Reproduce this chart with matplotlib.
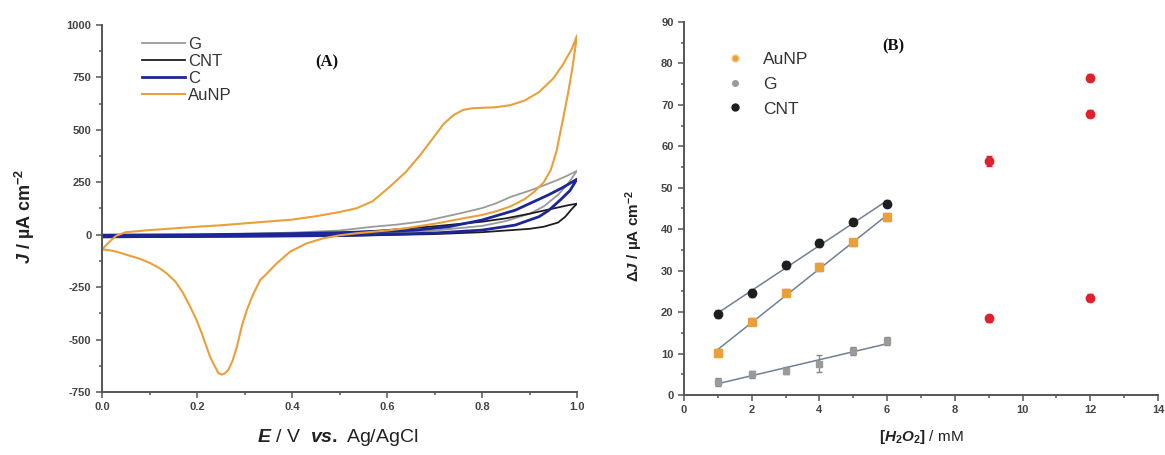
import matplotlib.pyplot as plt
import numpy as np
from matplotlib.ticker import MultipleLocator
from matplotlib.lines import Line2D

plt.rcParams['font.family'] = ['Liberation Sans', 'DejaVu Sans']
plt.rcParams['axes.unicode_minus'] = False
plt.rcParams['mathtext.fontset'] = 'custom'
plt.rcParams['mathtext.rm'] = 'Liberation Sans:bold'
plt.rcParams['mathtext.bf'] = 'Liberation Sans:bold'
plt.rcParams['mathtext.it'] = 'Liberation Sans:italic:bold'

# --- (A) cyclic voltammograms: forward scan 0 -> 1 V, then back to 0 V ---
G_E = [0.00, 0.10, 0.20, 0.30, 0.40, 0.50, 0.57, 0.62, 0.68, 0.72, 0.76, 0.80,
       0.83, 0.86, 0.88, 0.90, 0.93, 0.96, 0.98, 1.00,
       0.98, 0.96, 0.93, 0.90, 0.85, 0.80, 0.70, 0.60, 0.50, 0.30, 0.10, 0.00]
G_J = [-5, -3, 0, 4, 10, 20, 38, 48, 65, 85, 105, 127,
       150, 180, 195, 210, 235, 262, 282, 305,
       240, 190, 135, 100, 65, 42, 20, 8, 2, -4, -7, -8]

CNT_E = [0.00, 0.20, 0.40, 0.50, 0.60, 0.70, 0.80, 0.85, 0.90, 0.95, 0.98, 1.00,
         0.99, 0.975, 0.96, 0.93, 0.90, 0.80, 0.70, 0.50, 0.20, 0.00]
CNT_J = [-8, -5, 0, 8, 22, 40, 62, 78, 100, 125, 140, 148,
         125, 85, 58, 38, 28, 12, 3, -6, -10, -12]

C_E = [0.00, 0.20, 0.40, 0.50, 0.60, 0.66, 0.73, 0.80, 0.87, 0.94, 0.97, 1.00,
       0.985, 0.965, 0.94, 0.92, 0.87, 0.80, 0.70, 0.50, 0.20, 0.00]
C_J = [-2, 0, 5, 10, 16, 22, 38, 70, 117, 190, 225, 265,
       210, 166, 115, 86, 46, 22, 8, -4, -8, -10]

AUNP_E = [0.000, 0.015, 0.030, 0.050, 0.10, 0.15, 0.20, 0.25, 0.30, 0.35, 0.40,
          0.45, 0.50, 0.536, 0.57, 0.606, 0.64, 0.67, 0.70, 0.72, 0.74, 0.76,
          0.78, 0.80, 0.83, 0.86, 0.89, 0.92, 0.95, 0.97, 0.99, 1.00,
          0.99, 0.98, 0.97, 0.957, 0.945, 0.93, 0.91, 0.89, 0.86, 0.83, 0.80,
          0.76, 0.71, 0.64, 0.60, 0.536, 0.50, 0.466, 0.43, 0.396, 0.368,
          0.345, 0.333, 0.318, 0.305, 0.295, 0.284, 0.275, 0.266, 0.258, 0.252,
          0.245, 0.238, 0.228, 0.22, 0.21, 0.199, 0.185, 0.171, 0.155, 0.136,
          0.12, 0.101, 0.08, 0.055, 0.031, 0.015, 0.000]
AUNP_J = [-70, -35, -5, 12, 22, 30, 38, 45, 54, 63, 72,
          88, 108, 126, 160, 229, 300, 380, 470, 530, 570, 595,
          603, 605, 608, 618, 640, 680, 745, 810, 890, 950,
          790, 660, 545, 400, 310, 250, 205, 170, 135, 112, 94,
          78, 56, 31, 20, 7, -3, -17, -42, -81, -136,
          -190, -216, -285, -359, -430, -534, -600, -645, -662, -667,
          -660, -629, -585, -534, -470, -407, -340, -279, -225, -184,
          -158, -135, -115, -98, -81, -74, -70]

# --- (B) calibration data ---
CONC = [1, 2, 3, 4, 5, 6]
AUNP_DJ = [10.2, 17.7, 24.7, 30.9, 36.8, 42.9]
AUNP_ERR = [0.9, 0.8, 0.9, 0.9, 0.9, 1.0]
G_DJ = [3.2, 5.0, 5.9, 7.6, 10.6, 13.0]
G_ERR = [1.0, 0.9, 0.9, 2.0, 0.9, 0.9]
CNT_DJ = [19.6, 24.6, 31.3, 36.6, 41.8, 46.2]
CNT_ERR = [1.0, 1.0, 1.0, 1.0, 0.8, 0.8]
RED_CONC = [9, 9, 12, 12, 12]
RED_DJ = [56.5, 18.5, 76.6, 67.9, 23.5]
RED_ERR = [1.2, 0.8, 0.8, 0.9, 0.9]

ORANGE = '#e9a03b'
BLUE = '#1c2696'
GREY = '#9a9a9a'
BLACK = '#1e1e1e'
RED = '#e0202a'
FIT = '#6f8096'
AXCOL = '#555555'
TXT = '#333333'

W, H = 1165, 455
fig = plt.figure(figsize=(W / 100, H / 100), dpi=100)


def px_text(x, y, s, **kw):
    fig.text(x / W, 1 - y / H, s, ha='center', va='center', **kw)


def style_axes(ax):
    for side in ('top', 'right'):
        ax.spines[side].set_visible(False)
    for side in ('left', 'bottom'):
        ax.spines[side].set_color(AXCOL)
        ax.spines[side].set_linewidth(1.4)
    ax.tick_params(which='both', direction='out', color=AXCOL, width=1.1,
                   labelcolor='#444444', labelsize=8)
    ax.tick_params(which='major', length=4)
    ax.tick_params(which='minor', length=2.5)
    for lab in ax.get_xticklabels() + ax.get_yticklabels():
        lab.set_fontweight('bold')


# panel A
ax_a = fig.add_axes([102 / W, 63 / H, 475 / W, 367 / H])
ax_a.plot(G_E, G_J, color=GREY, lw=1.3, label='G')
ax_a.plot(CNT_E, CNT_J, color=BLACK, lw=1.3, label='CNT')
ax_a.plot(C_E, C_J, color=BLUE, lw=2.0, label='C')
ax_a.plot(AUNP_E, AUNP_J, color=ORANGE, lw=1.5, label='AuNP')
ax_a.set_xlim(0, 1)
ax_a.set_ylim(-750, 1000)
ax_a.xaxis.set_major_locator(MultipleLocator(0.2))
ax_a.xaxis.set_minor_locator(MultipleLocator(0.1))
ax_a.yaxis.set_major_locator(MultipleLocator(250))
ax_a.yaxis.set_minor_locator(MultipleLocator(125))
style_axes(ax_a)
ax_a.legend(loc='upper left', bbox_to_anchor=(142 / W, 1 - 37 / H),
            bbox_transform=fig.transFigure, frameon=False, fontsize=12,
            handlelength=2.6, handletextpad=0.15, labelspacing=0.12,
            borderpad=0, borderaxespad=0, labelcolor=TXT)

px_text(327, 62, '(A)', fontsize=12, fontweight='bold', family='Liberation Serif', color='#111111')
px_text(25, 216, r'$J$ / µA cm$^{-2}$', fontsize=13, fontweight='bold',
        rotation=90, color='#222222')
px_text(338, 437, r'$E$ / V  $vs.$ Ag/AgCl', fontsize=14, color='#222222')

# panel B
ax_b = fig.add_axes([684 / W, 60 / H, 474 / W, 373 / H])
fits = [(AUNP_DJ, ORANGE, AUNP_ERR), (G_DJ, GREY, G_ERR), (CNT_DJ, BLACK, CNT_ERR)]
for dj, col, err in fits:
    slope, icpt = np.polyfit(CONC, dj, 1)
    xs = np.array([CONC[0], CONC[-1]])
    ax_b.plot(xs, slope * xs + icpt, color=FIT, lw=1.1, zorder=2)

ax_b.errorbar(CONC, G_DJ, yerr=G_ERR, fmt='s', ms=4.5, color=GREY, mec=GREY,
              ecolor='#888888', elinewidth=1, capsize=2, zorder=3)
ax_b.errorbar(CONC, AUNP_DJ, yerr=AUNP_ERR, fmt='s', ms=5.5, color=ORANGE, mec=ORANGE,
              ecolor='#8a8a8a', elinewidth=1, capsize=2, zorder=3)
ax_b.errorbar(CONC, CNT_DJ, yerr=CNT_ERR, fmt='o', ms=6, color=BLACK, mec=BLACK,
              ecolor='#777777', elinewidth=1, capsize=2, zorder=4)
ax_b.errorbar(RED_CONC, RED_DJ, yerr=RED_ERR, fmt='o', ms=6, color=RED, mec=RED,
              ecolor=RED, elinewidth=1, capsize=2, zorder=4)

ax_b.set_xlim(0, 14)
ax_b.set_ylim(0, 90)
ax_b.xaxis.set_major_locator(MultipleLocator(2))
ax_b.xaxis.set_minor_locator(MultipleLocator(1))
ax_b.yaxis.set_major_locator(MultipleLocator(10))
ax_b.yaxis.set_minor_locator(MultipleLocator(5))
style_axes(ax_b)

handles = [
    Line2D([], [], ls='none', marker='o', ms=5, color=ORANGE, mec='#f3c98a', label='AuNP'),
    Line2D([], [], ls='none', marker='o', ms=4, color=GREY, label='G'),
    Line2D([], [], ls='none', marker='o', ms=5, color=BLACK, label='CNT'),
]
ax_b.legend(handles=handles, loc='upper left', bbox_to_anchor=(725 / W, 1 - 52 / H),
            bbox_transform=fig.transFigure, frameon=False, fontsize=12.5,
            handlelength=1.2, handletextpad=1.0, labelspacing=0.55,
            borderpad=0, borderaxespad=0, labelcolor=TXT)

px_text(893, 46, '(B)', fontsize=12, fontweight='bold', family='Liberation Serif', color='#111111')
px_text(634, 236, r'$\Delta J$ / µA cm$^{-2}$', fontsize=11, fontweight='bold',
        rotation=90, color='#222222')
px_text(921, 437, r'$[H_2O_2]$ / mM', fontsize=11, color='#222222')

fig.savefig('out.png', dpi=100, facecolor='white')
